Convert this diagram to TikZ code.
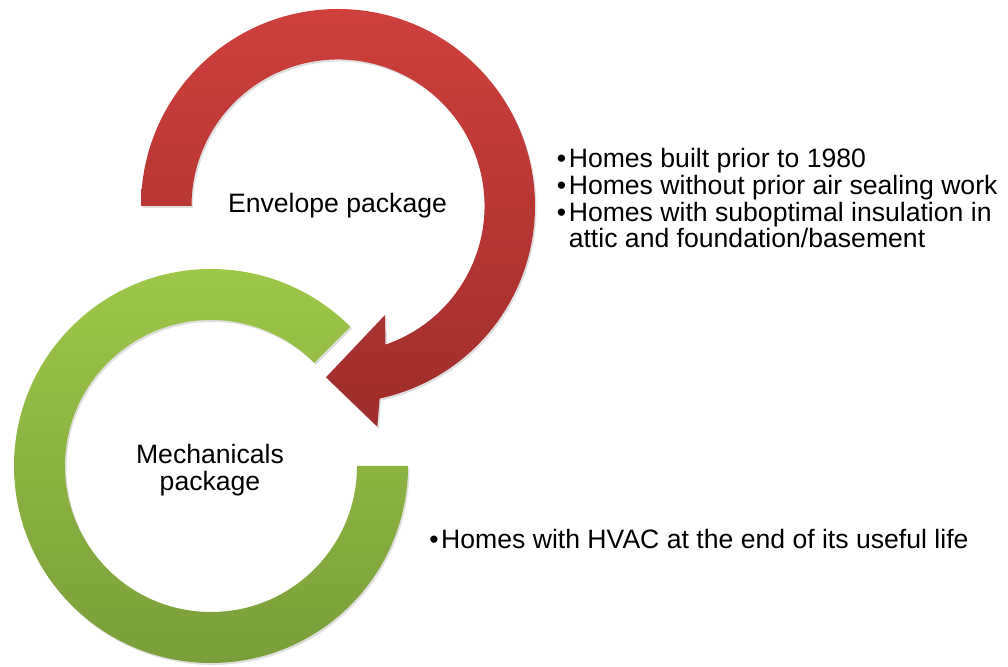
\documentclass[tikz,border=0pt]{standalone}
\usepackage{fontspec}
\setmainfont{Liberation Sans}
\usetikzlibrary{calc,shadows}
\definecolor{redtop}{RGB}{207,64,61}
\definecolor{redbot}{RGB}{158,45,43}
\definecolor{greentop}{RGB}{160,201,73}
\definecolor{greenbot}{RGB}{120,156,57}
\begin{document}
\begin{tikzpicture}[x=1pt,y=1pt,
  ringshadow/.style={drop shadow={opacity=0.25,shadow xshift=1.5pt,shadow yshift=-2pt}},
  lbl/.style={inner sep=0pt,font=\fontsize{26.6}{27.4}\selectfont,text=black},
  blist/.style={inner sep=0pt,align=left,font=\fontsize{26.6}{26.9}\selectfont,text=black}]
\useasboundingbox (0,0) rectangle (1008,666);
\coordinate (rc) at (338,460);
\coordinate (gc) at (211,200);
% green ring
\path[ringshadow,top color=greentop,bottom color=greenbot]
  ($(gc)+(45:197)$) arc[start angle=45,end angle=360,radius=197]
  -- ($(gc)+(0:146)$) arc[start angle=360,end angle=45,radius=146] -- cycle;
% red circular arrow
\coordinate (barbL) at (377.3,239.3);
\coordinate (tip) at (326,288.7);
\coordinate (barbU) at (385,351);
\path[ringshadow,top color=redtop,bottom color=redbot]
  ($(rc)+(180:197)$) arc[start angle=180,end angle=-77.8,radius=197]
  -- (barbL) -- (tip) -- (barbU)
  -- ($(rc)+(-71.1:146.5)$) arc[start angle=-71.1,end angle=180,radius=146.5] -- cycle;
% labels
\node[lbl,anchor=base] (env) at (337.5,453) {Envelope package};
\node[lbl,anchor=base,align=center] (mech) at (210,175.3) {Mechanicals\\package};
\node[blist,anchor=base west] (envlist) at (556.7,418)
  {\makebox[11.9pt][l]{•}Homes built prior to 1980\\
   \makebox[11.9pt][l]{•}Homes without prior air sealing work\\
   \makebox[11.9pt][l]{•}Homes with suboptimal insulation in\\
   \makebox[11.9pt][l]{}attic and foundation/basement};
\node[blist,anchor=base west] (mechlist) at (429.1,117)
  {\makebox[11.9pt][l]{•}Homes with HVAC at the end of its useful life};
\end{tikzpicture}
\end{document}
